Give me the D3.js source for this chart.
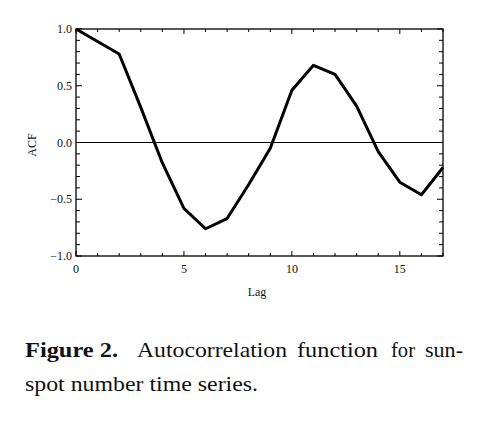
<!DOCTYPE html>
<html>
<head>
<meta charset="utf-8">
<script src="https://cdn.jsdelivr.net/npm/d3@7"></script>
<style>
  body { margin: 0; background: #fff; }
  text { font-family: "Liberation Serif", "Times New Roman", serif; fill: #111; }
</style>
</head>
<body>
<script>
// ACF values
var lags = [0, 1, 2, 3, 4, 5, 6, 7, 8, 9, 10, 11, 12, 13, 14, 15, 16, 17];
var acf = [1.0, 0.89, 0.78, 0.31, -0.18, -0.58, -0.76, -0.67, -0.37, -0.05, 0.46, 0.68, 0.60, 0.32, -0.08, -0.35, -0.46, -0.22];
var xTicks = [0, 5, 10, 15];
var yTicks = [-1.0, -0.5, 0.0, 0.5, 1.0];

var width = 499, height = 422;
var pLeft = 76, pRight = 443, pTop = 29, pBottom = 256;

const svg = d3.select("body")
    .append("svg")
    .attr("width", width)
    .attr("height", height);

const x = d3.scaleLinear().domain([0, 17]).range([pLeft, pRight]);
const y = d3.scaleLinear().domain([-1, 1]).range([pBottom, pTop]);

// frame
svg.append("rect")
    .attr("x", pLeft).attr("y", pTop)
    .attr("width", pRight - pLeft).attr("height", pBottom - pTop)
    .attr("fill", "none").attr("stroke", "#000").attr("stroke-width", 1.3);

// ticks on all four sides, pointing inward
var xMinor = d3.range(0, 18, 1);
var yMinor = d3.range(-10, 11).map(function (d) { return d / 10; });

function isMajorX(d) { return d % 5 === 0; }
function isMajorY(d) { return Math.abs(d * 2 - Math.round(d * 2)) < 1e-6; }

svg.selectAll(".xb").data(xMinor).enter().append("line")
    .attr("x1", function (d) { return x(d); }).attr("x2", function (d) { return x(d); })
    .attr("y1", pBottom).attr("y2", function (d) { return pBottom - (isMajorX(d) ? 5 : 3); })
    .attr("stroke", "#000");
svg.selectAll(".xt").data(xMinor).enter().append("line")
    .attr("x1", function (d) { return x(d); }).attr("x2", function (d) { return x(d); })
    .attr("y1", pTop).attr("y2", function (d) { return pTop + (isMajorX(d) ? 5 : 3); })
    .attr("stroke", "#000");
svg.selectAll(".yl").data(yMinor).enter().append("line")
    .attr("y1", function (d) { return y(d); }).attr("y2", function (d) { return y(d); })
    .attr("x1", pLeft).attr("x2", function (d) { return pLeft + (isMajorY(d) ? 6 : 4); })
    .attr("stroke", "#000");
svg.selectAll(".yr").data(yMinor).enter().append("line")
    .attr("y1", function (d) { return y(d); }).attr("y2", function (d) { return y(d); })
    .attr("x1", pRight).attr("x2", function (d) { return pRight - (isMajorY(d) ? 6 : 4); })
    .attr("stroke", "#000");

// tick labels
svg.selectAll(".xlab").data(xTicks).enter().append("text")
    .attr("x", function (d) { return x(d); })
    .attr("y", 273)
    .attr("text-anchor", "middle")
    .attr("font-size", 12)
    .text(function (d) { return d; });

svg.selectAll(".ylab").data(yTicks).enter().append("text")
    .attr("x", 72)
    .attr("y", function (d) { return y(d) + 4; })
    .attr("text-anchor", "end")
    .attr("font-size", 12)
    .text(function (d) { return d3.format(".1f")(d).replace("-", "\u2212"); });

// axis titles
svg.append("text")
    .attr("transform", "translate(36,145) rotate(-90)")
    .attr("text-anchor", "middle")
    .attr("font-size", 12)
    .text("ACF");
svg.append("text")
    .attr("x", 257).attr("y", 296)
    .attr("text-anchor", "middle")
    .attr("font-size", 12)
    .text("Lag");

// zero line
svg.append("line")
    .attr("x1", pLeft).attr("x2", pRight)
    .attr("y1", y(0)).attr("y2", y(0))
    .attr("stroke", "#000").attr("stroke-width", 1.2);

// ACF curve
const line = d3.line()
    .x(function (d, i) { return x(lags[i]); })
    .y(function (d) { return y(d); });

svg.append("path")
    .datum(acf)
    .attr("d", line)
    .attr("fill", "none")
    .attr("stroke", "#000")
    .attr("stroke-width", 3)
    .attr("stroke-linejoin", "round");

// caption, justified first line
var words1 = [
    { t: "Figure 2.", x0: 25, x1: 118, bold: true },
    { t: "Autocorrelation", x0: 137, x1: 287 },
    { t: "function", x0: 297, x1: 378 },
    { t: "for", x0: 391, x1: 415 },
    { t: "sun-", x0: 425, x1: 463 }
];
svg.selectAll(".cap1").data(words1).enter().append("text")
    .attr("x", function (d) { return d.x0; })
    .attr("y", 357)
    .attr("font-size", 21)
    .attr("font-weight", function (d) { return d.bold ? "bold" : "normal"; })
    .attr("textLength", function (d) { return d.x1 - d.x0; })
    .attr("lengthAdjust", "spacingAndGlyphs")
    .text(function (d) { return d.t; });

svg.append("text")
    .attr("x", 25).attr("y", 391)
    .attr("font-size", 21)
    .attr("textLength", 233)
    .attr("lengthAdjust", "spacingAndGlyphs")
    .text("spot number time series.");
</script>
</body>
</html>
